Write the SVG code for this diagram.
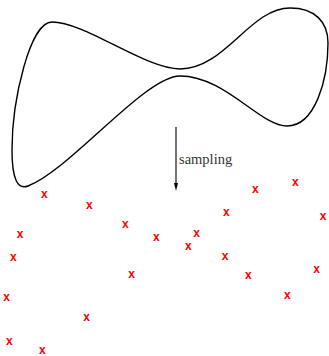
<svg xmlns="http://www.w3.org/2000/svg" width="329" height="356" viewBox="0 0 329 356">
<style>
.shape{fill:none;stroke:#000;stroke-width:1.4}
.arr{stroke:#000;stroke-width:1.1}
.lbl{font-family:"Liberation Serif",serif;font-size:14.5px;fill:#333}
.x{font-family:"Liberation Sans",sans-serif;font-size:12px;font-weight:bold;fill:#f00;text-anchor:middle}
</style>
<defs>
<marker id="ah" markerWidth="8" markerHeight="12" refX="6" refY="5" orient="auto" markerUnits="userSpaceOnUse" viewBox="0 0 12 10">
<path d="M0,2 L12,5 L0,8 Z" fill="#000"/>
</marker>
</defs>
<g id="shape">
<path class="shape" d="M52,22 C85,22 145,69 180,69 C225,69 250,8 290,8 C315,8 328,22 328,43 C328,80 315,126 287,126 C260,126 225,76 180,76 C145,76 70,170 28,186 C18,190 12,180 12,150 C12,100 30,22 52,22 Z"/>
</g>
<g id="connectors">
<line class="arr" x1="176" y1="127" x2="176" y2="187" marker-end="url(#ah)"/>
<text class="lbl" x="179" y="164">sampling</text>
</g>
<g id="samples">
<text class="x" x="44.3" y="198">x</text>
<text class="x" x="89.3" y="209">x</text>
<text class="x" x="125.3" y="228.3">x</text>
<text class="x" x="156.3" y="241.3">x</text>
<text class="x" x="196.7" y="237">x</text>
<text class="x" x="188.3" y="249.7">x</text>
<text class="x" x="20" y="238.3">x</text>
<text class="x" x="13.3" y="260.7">x</text>
<text class="x" x="131.7" y="277.7">x</text>
<text class="x" x="6.7" y="301.3">x</text>
<text class="x" x="86.7" y="321">x</text>
<text class="x" x="9.3" y="345">x</text>
<text class="x" x="42.3" y="354">x</text>
<text class="x" x="255.3" y="193">x</text>
<text class="x" x="295.3" y="185.7">x</text>
<text class="x" x="226.3" y="215.7">x</text>
<text class="x" x="323" y="219.7">x</text>
<text class="x" x="225" y="260">x</text>
<text class="x" x="248.3" y="279">x</text>
<text class="x" x="316.7" y="273">x</text>
<text class="x" x="287.3" y="298.7">x</text>
</g>
</svg>
